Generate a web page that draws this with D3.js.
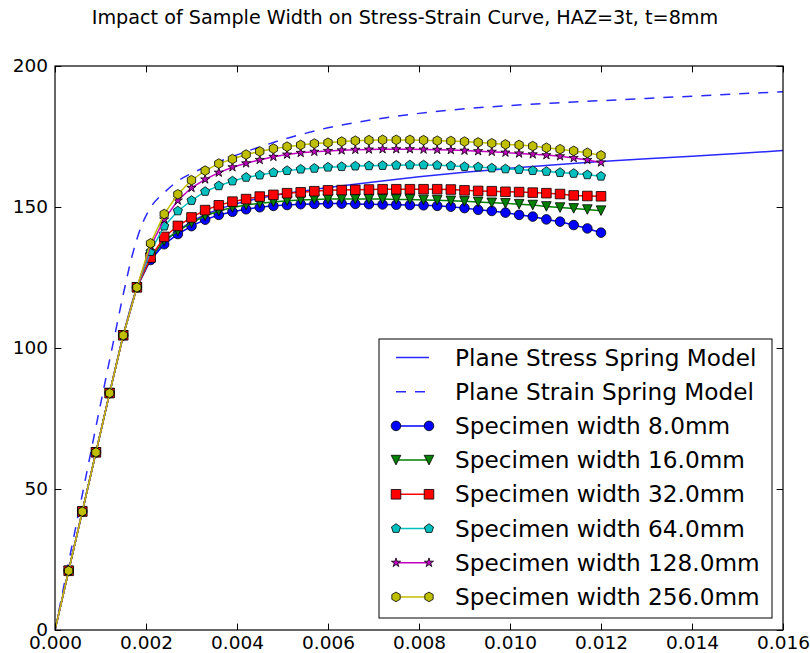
<!DOCTYPE html>
<html lang="en">
<head>
<meta charset="utf-8">
<title>Impact of Sample Width on Stress-Strain Curve</title>
<script src="https://d3js.org/d3.v7.min.js"></script>
<style>
  body { margin: 0; background: #fff; }
  svg text { font-family: "DejaVu Sans", sans-serif; fill: #000; }
</style>
</head>
<body>
<div id="main"></div>
<script>
// strain values where the specimen results were sampled
var strain = [0.0003, 0.0006, 0.0009, 0.0012, 0.0015, 0.0018, 0.0021, 0.0024, 0.0027, 0.0030,
              0.0033, 0.0036, 0.0039, 0.0042, 0.0045, 0.0048, 0.0051, 0.0054, 0.0057, 0.0060,
              0.0063, 0.0066, 0.0069, 0.0072, 0.0075, 0.0078, 0.0081, 0.0084, 0.0087, 0.0090,
              0.0093, 0.0096, 0.0099, 0.0102, 0.0105, 0.0108, 0.0111, 0.0114, 0.0117, 0.0120];
// elastic part, shared by all widths
var elastic = [21, 42, 63, 84, 104.5, 121.5];
var width8 = [131.2, 136.8, 140.4, 143.2, 145.5, 147.2, 148.3, 149.2, 149.9, 150.4,
              150.7, 151.0, 151.1, 151.2, 151.2, 151.1, 151.0, 150.9, 150.8, 150.7,
              150.6, 150.4, 150.1, 149.6, 149.0, 148.6, 148.0, 147.2, 146.6, 145.6,
              144.8, 143.6, 142.4, 140.9];
var width16 = [132, 138, 141.5, 144.4, 146.8, 148.6, 149.8, 150.7, 151.3, 151.8,
               152.2, 152.5, 152.7, 152.8, 152.8, 152.8, 152.8, 152.8, 152.7, 152.7,
               152.5, 152.4, 152.2, 152.0, 151.8, 151.5, 151.3, 151.0, 150.7, 150.2,
               149.8, 149.5, 149.1, 148.7];
var width32 = [132.1, 139.4, 143.3, 146.3, 148.9, 150.6, 151.9, 152.8, 153.7, 154.3,
               154.9, 155.2, 155.6, 155.9, 156.0, 156.1, 156.2, 156.3, 156.3, 156.3,
               156.3, 156.3, 156.2, 155.9, 155.7, 155.6, 155.4, 155.3, 155.1, 154.9,
               154.6, 154.1, 153.9, 153.8];
var width64 = [134.2, 143.2, 148.6, 152.3, 155.5, 157.5, 159.2, 160.5, 161.3, 162.2,
               162.9, 163.4, 163.7, 164.1, 164.3, 164.5, 164.6, 164.7, 164.8, 164.9,
               164.9, 164.8, 164.6, 164.3, 164.2, 163.8, 163.5, 163.3, 162.9, 162.6,
               162.2, 161.9, 161.4, 160.9];
var width128 = [136, 145.6, 152.3, 156.8, 159.8, 162.2, 164.1, 165.5, 166.7, 167.8,
                168.6, 169.2, 169.6, 169.9, 170.1, 170.3, 170.4, 170.5, 170.5, 170.5,
                170.4, 170.3, 170.2, 170.0, 169.8, 169.6, 169.3, 169.0, 168.7, 168.4,
                168.0, 167.4, 166.7, 165.8];
var width256 = [137.1, 147.5, 154.5, 159.5, 162.9, 165.4, 167.0, 168.6, 169.7, 170.7,
                171.4, 172.0, 172.5, 172.8, 173.2, 173.5, 173.7, 173.8, 173.8, 173.8,
                173.7, 173.5, 173.4, 173.2, 172.9, 172.6, 172.2, 172.0, 171.6, 171.0,
                170.5, 169.9, 169.2, 168.3];

// spring models
var modelStrain = [0, 0.0005, 0.001, 0.0013, 0.0015, 0.0017, 0.0019, 0.0021, 0.0024, 0.0027,
                   0.003, 0.0035, 0.004, 0.0045, 0.005, 0.0055, 0.006, 0.007, 0.008, 0.009,
                   0.010, 0.011, 0.012, 0.013, 0.014, 0.015, 0.016];
var planeStress = [0, 35, 70, 91, 104.5, 116.5, 125.5, 131, 137.5, 141.5,
                   144.8, 148.6, 151.2, 153.1, 154.6, 155.8, 156.9, 158.9, 160.7, 162.3,
                   163.7, 165.0, 166.1, 167.1, 168.0, 169.0, 170.0];
var planeStrain = [0, 40, 80, 103.5, 119, 133, 143.3, 149.8, 155.1, 159.2,
                   161.9, 165.4, 168.5, 171.3, 173.9, 176.1, 178.1, 181.0, 183.2, 184.8,
                   186.0, 186.9, 187.7, 188.5, 189.3, 190.1, 190.9];

var widthLabels = ["Specimen width 8.0mm", "Specimen width 16.0mm", "Specimen width 32.0mm",
                   "Specimen width 64.0mm", "Specimen width 128.0mm", "Specimen width 256.0mm"];
var modelLabels = ["Plane Stress Spring Model", "Plane Strain Spring Model"];
var xTicks = [0, 0.002, 0.004, 0.006, 0.008, 0.010, 0.012, 0.014, 0.016];
var yTicks = [0, 50, 100, 150, 200];

var W = 810, H = 653;
var pL = 55, pR = 783, pT = 66, pB = 630;

var svg = d3.select("#main").append("svg")
    .attr("width", W)
    .attr("height", H);

var x = d3.scaleLinear().domain([0, 0.016]).range([pL, pR]);
var y = d3.scaleLinear().domain([0, 200]).range([pB, pT]);

svg.append("text")
    .attr("x", W / 2)
    .attr("y", 24)
    .attr("text-anchor", "middle")
    .style("font-size", "19.2px")
    .text("Impact of Sample Width on Stress-Strain Curve, HAZ=3t, t=8mm");

svg.append("defs").append("clipPath").attr("id", "clip")
    .append("rect").attr("x", pL).attr("y", pT)
    .attr("width", pR - pL).attr("height", pB - pT);

// marker shapes, matplotlib style (6pt)
var ms = 9.6;
function poly(n, r, rot) {
    var pts = [];
    for (var i = 0; i < n; i++) {
        var a = rot + i * 2 * Math.PI / n;
        pts.push([r * Math.sin(a), -r * Math.cos(a)]);
    }
    return "M" + pts.join("L") + "Z";
}
function star(r) {
    var pts = [];
    for (var i = 0; i < 10; i++) {
        var rr = i % 2 ? r * 0.381966 : r;
        var a = i * Math.PI / 5;
        pts.push([rr * Math.sin(a), -rr * Math.cos(a)]);
    }
    return "M" + pts.join("L") + "Z";
}
var shapes = [
    d3.symbol().type(d3.symbolCircle).size(Math.PI * ms * ms / 4)(),
    "M0," + ms / 2 + "L" + (-ms / 2) + "," + (-ms / 2) + "L" + ms / 2 + "," + (-ms / 2) + "Z",
    "M" + (-ms / 2) + "," + (-ms / 2) + "h" + ms + "v" + ms + "h" + (-ms) + "Z",
    poly(5, ms / 2, 0),
    star(ms / 2),
    poly(6, ms / 2, 0)
];
var colors = ["#0000ff", "#008000", "#ff0000", "#00bfbf", "#bf00bf", "#bfbf00"];
var widths = [width8, width16, width32, width64, width128, width256];
var modelColor = "#2828ff";

var modelLine = d3.line()
    .x(function(d) { return x(d[0]); })
    .y(function(d) { return y(d[1]); })
    .curve(d3.curveMonotoneX);

var g = svg.append("g").attr("clip-path", "url(#clip)");

g.append("path")
    .attr("d", modelLine(d3.zip(modelStrain, planeStress)))
    .attr("fill", "none").attr("stroke", modelColor).attr("stroke-width", 1.5);
g.append("path")
    .attr("d", modelLine(d3.zip(modelStrain, planeStrain)))
    .attr("fill", "none").attr("stroke", modelColor).attr("stroke-width", 1.5)
    .attr("stroke-dasharray", "10,9");

var seriesLine = d3.line()
    .x(function(d) { return x(d[0]); })
    .y(function(d) { return y(d[1]); });

widths.forEach(function(vals, k) {
    var pts = d3.zip(strain, elastic.concat(vals));
    var sg = g.append("g");
    sg.append("path")
        .attr("d", seriesLine([[0, 0]].concat(pts)))
        .attr("fill", "none").attr("stroke", colors[k]).attr("stroke-width", 1.5);
    sg.selectAll("path.mk").data(pts).enter().append("path")
        .attr("class", "mk")
        .attr("d", shapes[k])
        .attr("transform", function(d) { return "translate(" + x(d[0]) + "," + y(d[1]) + ")"; })
        .attr("fill", colors[k]).attr("stroke", "#000").attr("stroke-width", 0.8);
});

// axes frame with inward ticks on all sides
var tickLen = 6.4;
var xb = svg.append("g").attr("transform", "translate(0," + pB + ")")
    .call(d3.axisBottom(x).tickValues(xTicks).tickFormat(d3.format(".3f")).tickSizeInner(-tickLen).tickSizeOuter(0).tickPadding(6));
var xt = svg.append("g").attr("transform", "translate(0," + pT + ")")
    .call(d3.axisTop(x).tickValues(xTicks).tickFormat("").tickSizeInner(-tickLen).tickSizeOuter(0));
var yl = svg.append("g").attr("transform", "translate(" + pL + ",0)")
    .call(d3.axisLeft(y).tickValues(yTicks).tickSizeInner(-tickLen).tickSizeOuter(0).tickPadding(7));
var yr = svg.append("g").attr("transform", "translate(" + pR + ",0)")
    .call(d3.axisRight(y).tickValues(yTicks).tickFormat("").tickSizeInner(-tickLen).tickSizeOuter(0));
[xb, xt, yl, yr].forEach(function(a) {
    a.select(".domain").remove();
    a.selectAll("line").attr("stroke", "#000").attr("stroke-width", 1);
    a.selectAll("text").style("font-size", "18.5px").attr("fill", "#000");
});
svg.append("rect")
    .attr("x", pL).attr("y", pT)
    .attr("width", pR - pL).attr("height", pB - pT)
    .attr("fill", "none").attr("stroke", "#000").attr("stroke-width", 1.2);

// legend
var lx = 379, ly = 339, lw = 393, lh = 279, rowH = 34.2;
var leg = svg.append("g");
leg.append("rect")
    .attr("x", lx).attr("y", ly).attr("width", lw).attr("height", lh)
    .attr("fill", "#fff").attr("stroke", "#000").attr("stroke-width", 1);
var entries = modelLabels.concat(widthLabels);
entries.forEach(function(label, i) {
    var cy = ly + 18.5 + i * rowH;
    var row = leg.append("g");
    if (i < 2) {
        row.append("line")
            .attr("x1", 396).attr("x2", 429).attr("y1", cy).attr("y2", cy)
            .attr("stroke", modelColor).attr("stroke-width", 1.5)
            .attr("stroke-dasharray", i === 1 ? "10,9" : null);
    } else {
        var k = i - 2;
        row.append("line")
            .attr("x1", 396).attr("x2", 429).attr("y1", cy).attr("y2", cy)
            .attr("stroke", colors[k]).attr("stroke-width", 1.5);
        [396, 429].forEach(function(px) {
            row.append("path")
                .attr("d", shapes[k])
                .attr("transform", "translate(" + px + "," + cy + ")")
                .attr("fill", colors[k]).attr("stroke", "#000").attr("stroke-width", 0.8);
        });
    }
    row.append("text")
        .attr("x", 455).attr("y", cy)
        .attr("dy", "0.35em")
        .style("font-size", "23.2px")
        .text(label);
});
</script>
</body>
</html>
